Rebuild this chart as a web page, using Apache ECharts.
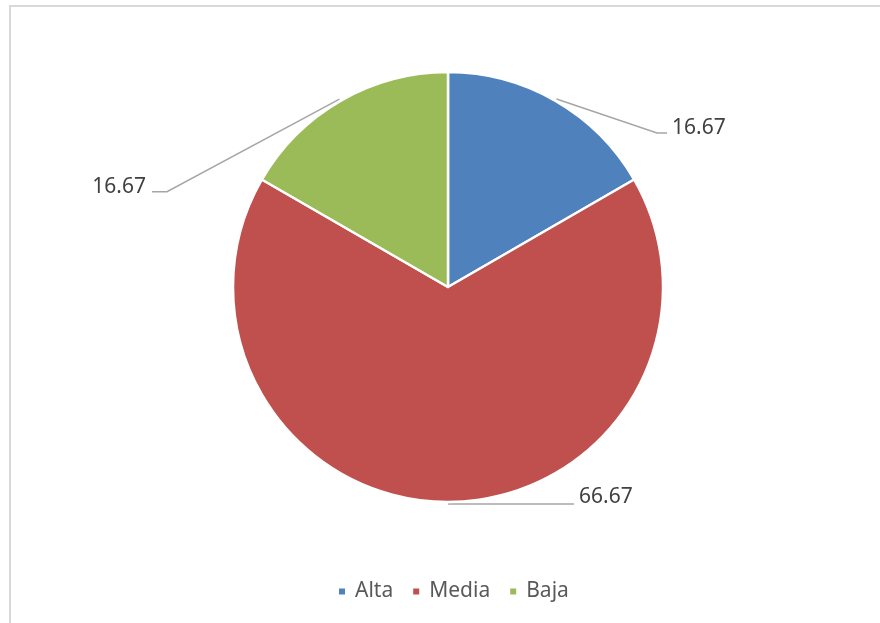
<!DOCTYPE html>
<html>
<head>
<meta charset="utf-8">
<title>Distribución por nivel</title>
<script src="https://cdn.jsdelivr.net/npm/echarts@6/dist/echarts.min.js"></script>
<style>
  html, body { margin: 0; padding: 0; background: #fff; overflow: hidden; }
  #chart { width: 880px; height: 623px; }
</style>
</head>
<body>
<div id="chart"></div>
<script>
// Categories and their percentages
const categories = ['Alta', 'Media', 'Baja'];
const values = [16.67, 66.67, 16.67];
const colors = ['#4F81BD', '#C0504D', '#9BBB59'];

// Where each value label sits relative to the start of its leader line:
// tx/ty = text anchor, bx/by = elbow of the leader line, ex = end of its short tail
const labelPlacement = [
  { tx: 115.5, ty: 29, align: 'left', bx: 100.5, by: 34, ex: 110.5 },
  { tx: 131, ty: -6.5, align: 'left', bx: 126, by: 0, ex: 126 },
  { tx: -193.5, ty: 88, align: 'right', bx: -172.5, by: 92.7, ex: -187.5 }
];
// Leader lines start just outside the slice outline
const leaderGap = 2;

const chart = echarts.init(document.getElementById('chart'), null, { renderer: 'canvas' });

// Point just beyond the outer arc at the middle of a slice, from the pie's own layout
function sliceEdgePoint(p) {
  try {
    const data = chart.getModel().getSeriesByIndex(p.seriesIndex).getData();
    const l = data.getItemLayout(p.dataIndex);
    const mid = (l.startAngle + l.endAngle) / 2;
    const r = l.r + leaderGap;
    return [l.cx + r * Math.cos(mid), l.cy + r * Math.sin(mid)];
  } catch (e) {
    return p.labelLinePoints[0].slice();
  }
}

chart.setOption({
  animation: false,
  backgroundColor: '#ffffff',
  color: colors,
  graphic: [{
    type: 'rect',
    silent: true,
    shape: { x: 10, y: 6, width: 1200, height: 1200 },
    style: { fill: 'none', stroke: '#d9d9d9', lineWidth: 2 }
  }],
  legend: {
    data: categories,
    top: 581,
    left: 337,
    padding: 0,
    icon: 'rect',
    itemWidth: 8,
    itemHeight: 8,
    itemGap: 18,
    textStyle: {
      fontFamily: 'Noto Sans',
      fontSize: 21,
      color: '#595959',
      padding: [0, 0, 0, 4]
    }
  },
  series: [{
    type: 'pie',
    center: [448, 287],
    radius: 215,
    startAngle: 90,
    clockwise: true,
    avoidLabelOverlap: false,
    emphasis: { disabled: true },
    itemStyle: { borderColor: '#ffffff', borderWidth: 2.5 },
    label: {
      show: true,
      position: 'outside',
      formatter: '{c}',
      fontFamily: 'Noto Sans',
      fontSize: 21,
      color: '#404040'
    },
    labelLine: {
      show: true,
      length: 10,
      length2: 10,
      minTurnAngle: 0,
      maxSurfaceAngle: 180,
      lineStyle: { color: '#a6a6a6', width: 1.5 }
    },
    labelLayout: function (p) {
      const a = sliceEdgePoint(p);
      const o = labelPlacement[p.dataIndex];
      return {
        x: a[0] + o.tx,
        y: a[1] + o.ty,
        align: o.align,
        verticalAlign: 'middle',
        labelLinePoints: [
          [a[0], a[1]],
          [a[0] + o.bx, a[1] + o.by],
          [a[0] + o.ex, a[1] + o.by]
        ]
      };
    },
    data: categories.map((name, i) => ({ name: name, value: values[i] }))
  }]
});
</script>
</body>
</html>
